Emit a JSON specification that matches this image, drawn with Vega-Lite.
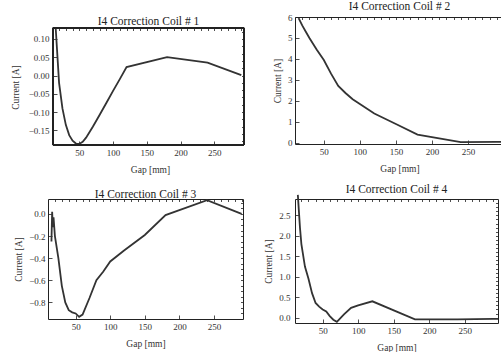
{
  "$schema": "https://vega.github.io/schema/vega-lite/v6.json",
  "padding": {"left": 10, "top": 0, "right": 0, "bottom": 0},
  "background": "white",
  "spacing": 17,
  "config": {
    "view": {"stroke": "#222", "strokeWidth": 1},
    "title": {"font": "Liberation Serif", "fontSize": 11.5, "fontWeight": "normal", "color": "#222", "offset": 0},
    "axis": {"labelFont": "Liberation Serif", "labelFontSize": 9, "labelColor": "#333", "titleFont": "Liberation Serif", "titleFontSize": 9.5, "titleFontWeight": "normal", "titleColor": "#333", "grid": false, "domain": false, "tickColor": "#222", "tickWidth": 0.8, "labelPadding": 7, "titlePadding": 5},
    "axisBottom": {"titlePadding": 7},
    "line": {"color": "#333", "strokeWidth": 1.8, "clip": true}
  },
  "datasets": {
    "c1": [
      {"gap": 15, "current": 0.13}, {"gap": 20, "current": -0.02}, {"gap": 25, "current": -0.09}, {"gap": 30, "current": -0.135},
      {"gap": 35, "current": -0.163}, {"gap": 40, "current": -0.178}, {"gap": 45, "current": -0.186}, {"gap": 50, "current": -0.187},
      {"gap": 55, "current": -0.181}, {"gap": 60, "current": -0.17}, {"gap": 70, "current": -0.14}, {"gap": 80, "current": -0.108},
      {"gap": 90, "current": -0.075}, {"gap": 100, "current": -0.042}, {"gap": 110, "current": -0.01}, {"gap": 120, "current": 0.023},
      {"gap": 180, "current": 0.05}, {"gap": 240, "current": 0.035}, {"gap": 290, "current": 0.001}
    ],
    "c2": [
      {"gap": 15, "current": 5.95}, {"gap": 20, "current": 5.6}, {"gap": 25, "current": 5.3}, {"gap": 30, "current": 5.0},
      {"gap": 40, "current": 4.45}, {"gap": 50, "current": 3.95}, {"gap": 60, "current": 3.3}, {"gap": 70, "current": 2.72},
      {"gap": 80, "current": 2.38}, {"gap": 90, "current": 2.08}, {"gap": 100, "current": 1.85}, {"gap": 120, "current": 1.4},
      {"gap": 150, "current": 0.9}, {"gap": 180, "current": 0.4}, {"gap": 240, "current": 0.04}, {"gap": 290, "current": 0.05},
      {"gap": 300, "current": 0.05}
    ],
    "c3": [
      {"gap": 15, "current": -0.25}, {"gap": 16, "current": 0.02}, {"gap": 17, "current": -0.12}, {"gap": 18, "current": -0.03},
      {"gap": 20, "current": -0.2}, {"gap": 25, "current": -0.4}, {"gap": 30, "current": -0.65}, {"gap": 35, "current": -0.8},
      {"gap": 40, "current": -0.87}, {"gap": 45, "current": -0.89}, {"gap": 50, "current": -0.9}, {"gap": 55, "current": -0.93},
      {"gap": 60, "current": -0.91}, {"gap": 70, "current": -0.76}, {"gap": 80, "current": -0.6}, {"gap": 90, "current": -0.52},
      {"gap": 100, "current": -0.43}, {"gap": 120, "current": -0.33}, {"gap": 150, "current": -0.19}, {"gap": 180, "current": -0.01},
      {"gap": 240, "current": 0.125}, {"gap": 290, "current": 0.0}
    ],
    "c4": [
      {"gap": 15, "current": 3.0}, {"gap": 18, "current": 2.2}, {"gap": 20, "current": 1.8}, {"gap": 25, "current": 1.25},
      {"gap": 30, "current": 0.95}, {"gap": 35, "current": 0.6}, {"gap": 40, "current": 0.36}, {"gap": 45, "current": 0.27},
      {"gap": 50, "current": 0.2}, {"gap": 55, "current": 0.15}, {"gap": 60, "current": 0.04}, {"gap": 65, "current": -0.05},
      {"gap": 70, "current": -0.1}, {"gap": 80, "current": 0.08}, {"gap": 90, "current": 0.24}, {"gap": 100, "current": 0.3},
      {"gap": 120, "current": 0.4}, {"gap": 180, "current": -0.04}, {"gap": 240, "current": -0.04}, {"gap": 290, "current": -0.03},
      {"gap": 297, "current": -0.03}
    ]
  },
  "hconcat": [
    {
      "align": "none",
      "spacing": 14,
      "vconcat": [
        {
          "width": 196, "height": 128,
          "view": {"stroke": null},
          "data": {"name": "c1"},
          "layer": [
            {"mark": {"type": "line"},
             "encoding": {
               "x": {"field": "gap", "type": "quantitative", "scale": {"domain": [3.6, 294], "nice": false, "zero": false},
                     "axis": {"orient": "bottom", "title": "Gap [mm]", "titleX": 102, "values": [50, 100, 150, 200, 250], "tickSize": -4}},
               "y": {"field": "current", "type": "quantitative", "scale": {"domain": [-0.19, 0.16], "nice": false, "zero": false},
                     "axis": {"orient": "left", "offset": -5, "title": "Current [A]", "values": [-0.15, -0.1, -0.05, 0, 0.05, 0.1], "format": ".2f", "tickSize": -4, "titleY": 70, "labelPadding": 8, "titlePadding": 8}}
             }},
            {"mark": {"type": "line", "opacity": 0},
             "encoding": {
               "x": {"field": "gap", "type": "quantitative",
                     "axis": {"orient": "top", "offset": -11, "title": "I4 Correction Coil # 1", "titleX": 100, "titleFontSize": 11.5, "titleColor": "#222", "titlePadding": 1, "labels": false, "values": [20,30,40,50,60,70,80,90,100,110,120,130,140,150,160,170,180,190,200,210,220,230,240,250,260,270,280,290], "tickSize": -2.5}},
               "y": {"field": "current", "type": "quantitative",
                     "axis": {"orient": "right", "title": null, "labels": false, "values": [-0.18,-0.16,-0.14,-0.12,-0.1,-0.08,-0.06,-0.04,-0.02,0,0.02,0.04,0.06,0.08,0.1,0.12], "tickSize": -2.5}}
             }},
            {"mark": {"type": "rect", "fill": null, "stroke": "#222", "strokeWidth": 1},
             "encoding": {
               "x": {"datum": 11, "type": "quantitative", "axis": null},
               "x2": {"datum": 294},
               "y": {"datum": -0.19, "type": "quantitative", "axis": null},
               "y2": {"datum": 0.13}
             }}
          ],
          "resolve": {"axis": {"x": "independent", "y": "independent"}}
        },
        {
          "width": 195, "height": 120,
          "title": {"text": "I4 Correction Coil # 3", "offset": -4},
          "data": {"name": "c3"},
          "layer": [
            {"mark": {"type": "line"},
             "encoding": {
               "x": {"field": "gap", "type": "quantitative", "scale": {"domain": [10, 292], "nice": false, "zero": false},
                     "axis": {"orient": "bottom", "title": "Gap [mm]", "values": [50, 100, 150, 200, 250], "tickSize": -4}},
               "y": {"field": "current", "type": "quantitative", "scale": {"domain": [-0.95, 0.135], "nice": false, "zero": false},
                     "axis": {"orient": "left", "title": "Current [A]", "values": [-0.8, -0.6, -0.4, -0.2, 0], "format": ".1f", "tickSize": -4}}
             }},
            {"mark": {"type": "line", "opacity": 0},
             "encoding": {
               "x": {"field": "gap", "type": "quantitative",
                     "axis": {"orient": "top", "title": null, "labels": false, "values": [20,30,40,50,60,70,80,90,100,110,120,130,140,150,160,170,180,190,200,210,220,230,240,250,260,270,280,290], "tickSize": -2.5}},
               "y": {"field": "current", "type": "quantitative",
                     "axis": {"orient": "right", "title": null, "labels": false, "values": [-0.9,-0.85,-0.8,-0.75,-0.7,-0.65,-0.6,-0.55,-0.5,-0.45,-0.4,-0.35,-0.3,-0.25,-0.2,-0.15,-0.1,-0.05,0,0.05,0.1], "tickSize": -2.5}}
             }}
          ],
          "resolve": {"axis": {"x": "independent", "y": "independent"}}
        }
      ]
    },
    {
      "align": "none",
      "spacing": 10,
      "vconcat": [
        {
          "width": 209, "height": 127,
          "title": {"text": "I4 Correction Coil # 2", "offset": 1},
          "data": {"name": "c2"},
          "layer": [
            {"mark": {"type": "line"},
             "encoding": {
               "x": {"field": "gap", "type": "quantitative", "scale": {"domain": [10, 300], "nice": false, "zero": false},
                     "axis": {"orient": "bottom", "title": "Gap [mm]", "values": [50, 100, 150, 200, 250], "tickSize": -4}},
               "y": {"field": "current", "type": "quantitative", "scale": {"domain": [-0.05, 6.0], "nice": false, "zero": false},
                     "axis": {"orient": "left", "title": "Current [A]", "values": [0, 1, 2, 3, 4, 5, 6], "format": "d", "tickSize": -4}}
             }},
            {"mark": {"type": "line", "opacity": 0},
             "encoding": {
               "x": {"field": "gap", "type": "quantitative",
                     "axis": {"orient": "top", "title": null, "labels": false, "values": [20,30,40,50,60,70,80,90,100,110,120,130,140,150,160,170,180,190,200,210,220,230,240,250,260,270,280,290], "tickSize": -2.5}},
               "y": {"field": "current", "type": "quantitative",
                     "axis": {"orient": "right", "title": null, "labels": false, "values": [0.2,0.4,0.6,0.8,1,1.2,1.4,1.6,1.8,2,2.2,2.4,2.6,2.8,3,3.2,3.4,3.6,3.8,4,4.2,4.4,4.6,4.8,5,5.2,5.4,5.6,5.8], "tickSize": -2.5}}
             }}
          ],
          "resolve": {"axis": {"x": "independent", "y": "independent"}}
        },
        {
          "width": 203, "height": 124,
          "title": {"text": "I4 Correction Coil # 4", "offset": -4},
          "data": {"name": "c4"},
          "layer": [
            {"mark": {"type": "line"},
             "encoding": {
               "x": {"field": "gap", "type": "quantitative", "scale": {"domain": [11, 297], "nice": false, "zero": false},
                     "axis": {"orient": "bottom", "title": "Gap [mm]", "values": [50, 100, 150, 200, 250], "tickSize": -4}},
               "y": {"field": "current", "type": "quantitative", "scale": {"domain": [-0.13, 2.9], "nice": false, "zero": false},
                     "axis": {"orient": "left", "title": "Current [A]", "values": [0, 0.5, 1, 1.5, 2, 2.5], "format": ".1f", "tickSize": -4, "labelPadding": 9}}
             }},
            {"mark": {"type": "line", "opacity": 0},
             "encoding": {
               "x": {"field": "gap", "type": "quantitative",
                     "axis": {"orient": "top", "title": null, "labels": false, "values": [20,30,40,50,60,70,80,90,100,110,120,130,140,150,160,170,180,190,200,210,220,230,240,250,260,270,280,290], "tickSize": -2.5}},
               "y": {"field": "current", "type": "quantitative",
                     "axis": {"orient": "right", "title": null, "labels": false, "values": [0,0.1,0.2,0.3,0.4,0.5,0.6,0.7,0.8,0.9,1,1.1,1.2,1.3,1.4,1.5,1.6,1.7,1.8,1.9,2,2.1,2.2,2.3,2.4,2.5,2.6,2.7,2.8], "tickSize": -2.5}}
             }}
          ],
          "resolve": {"axis": {"x": "independent", "y": "independent"}}
        }
      ]
    }
  ]
}
